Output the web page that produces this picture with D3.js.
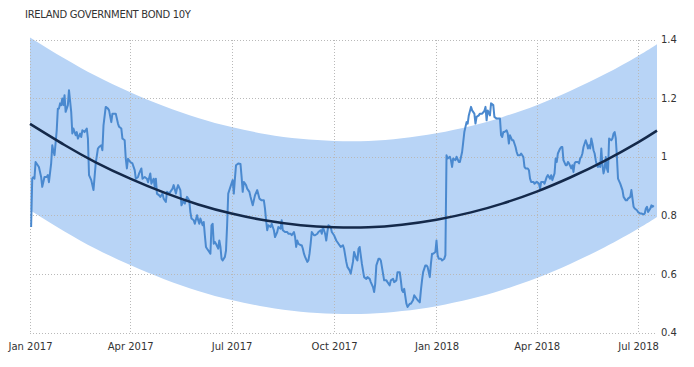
<!DOCTYPE html>
<html>
<head>
<meta charset="utf-8">
<script src="https://cdn.jsdelivr.net/npm/d3@7"></script>
<style>
  html, body { margin: 0; padding: 0; background: #fff; }
  svg { display: block; }
  text { font-family: "DejaVu Sans", Verdana, sans-serif; fill: #333; }
</style>
</head>
<body>
<svg id="chart" width="694" height="367"></svg>
<script>
const title = "IRELAND GOVERNMENT BOND 10Y";

const dates = [
"2017-01-02","2017-01-03","2017-01-04","2017-01-05","2017-01-06","2017-01-09","2017-01-11","2017-01-12","2017-01-14","2017-01-16",
"2017-01-17","2017-01-18","2017-01-20","2017-01-21","2017-01-22","2017-01-23","2017-01-25","2017-01-26","2017-01-27","2017-01-28",
"2017-01-29","2017-01-30","2017-01-31","2017-02-01","2017-02-02","2017-02-04","2017-02-05","2017-02-07","2017-02-08","2017-02-09",
"2017-02-11","2017-02-12","2017-02-13","2017-02-15","2017-02-16","2017-02-17","2017-02-19","2017-02-21","2017-02-22","2017-02-23",
"2017-02-25","2017-02-26","2017-02-27","2017-03-01","2017-03-03","2017-03-04","2017-03-06","2017-03-07","2017-03-08","2017-03-10",
"2017-03-12","2017-03-13","2017-03-15","2017-03-16","2017-03-18","2017-03-19","2017-03-21","2017-03-22","2017-03-24","2017-03-25",
"2017-03-27","2017-03-28","2017-03-29","2017-03-30","2017-04-01","2017-04-03","2017-04-05","2017-04-06","2017-04-08","2017-04-09",
"2017-04-11","2017-04-12","2017-04-14","2017-04-16","2017-04-17","2017-04-19","2017-04-20","2017-04-22","2017-04-23","2017-04-24",
"2017-04-25","2017-04-27","2017-04-28","2017-04-30","2017-05-01","2017-05-03","2017-05-04","2017-05-06","2017-05-07","2017-05-09",
"2017-05-10","2017-05-12","2017-05-13","2017-05-14","2017-05-16","2017-05-17","2017-05-19","2017-05-20","2017-05-22","2017-05-24",
"2017-05-25","2017-05-26","2017-05-28","2017-05-29","2017-05-31","2017-06-01","2017-06-02","2017-06-03","2017-06-05","2017-06-06",
"2017-06-07","2017-06-08","2017-06-09","2017-06-11","2017-06-12","2017-06-13","2017-06-14","2017-06-15","2017-06-16","2017-06-17",
"2017-06-19","2017-06-20","2017-06-21","2017-06-22","2017-06-23","2017-06-25","2017-06-26","2017-06-27","2017-06-28","2017-06-29",
"2017-07-01","2017-07-02","2017-07-03","2017-07-04","2017-07-05","2017-07-07","2017-07-09","2017-07-10","2017-07-11","2017-07-12",
"2017-07-14","2017-07-15","2017-07-17","2017-07-18","2017-07-20","2017-07-21","2017-07-22","2017-07-24","2017-07-26","2017-07-28",
"2017-07-30","2017-07-31","2017-08-01","2017-08-02","2017-08-03","2017-08-05","2017-08-06","2017-08-08","2017-08-09","2017-08-11",
"2017-08-12","2017-08-14","2017-08-15","2017-08-16","2017-08-18","2017-08-20","2017-08-21","2017-08-23","2017-08-24","2017-08-26",
"2017-08-27","2017-08-28","2017-08-29","2017-08-30","2017-09-01","2017-09-02","2017-09-03","2017-09-04","2017-09-05","2017-09-07",
"2017-09-08","2017-09-09","2017-09-10","2017-09-11","2017-09-13","2017-09-14","2017-09-16","2017-09-17","2017-09-19","2017-09-20",
"2017-09-21","2017-09-23","2017-09-24","2017-09-25","2017-09-26","2017-09-28","2017-09-29","2017-10-01","2017-10-03","2017-10-05",
"2017-10-07","2017-10-09","2017-10-10","2017-10-12","2017-10-13","2017-10-15","2017-10-16","2017-10-18","2017-10-19","2017-10-21",
"2017-10-22","2017-10-23","2017-10-24","2017-10-26","2017-10-27","2017-10-28","2017-10-30","2017-10-31","2017-11-02","2017-11-03",
"2017-11-05","2017-11-06","2017-11-07","2017-11-08","2017-11-10","2017-11-11","2017-11-12","2017-11-14","2017-11-15","2017-11-17",
"2017-11-18","2017-11-20","2017-11-21","2017-11-23","2017-11-24","2017-11-26","2017-11-27","2017-11-29","2017-11-30","2017-12-01",
"2017-12-02","2017-12-03","2017-12-05","2017-12-06","2017-12-08","2017-12-09","2017-12-11","2017-12-12","2017-12-14","2017-12-15",
"2017-12-17","2017-12-18","2017-12-19","2017-12-20","2017-12-22","2017-12-23","2017-12-24","2017-12-26","2017-12-27","2017-12-28",
"2017-12-29","2017-12-31","2018-01-01","2018-01-02","2018-01-03","2018-01-05","2018-01-06","2018-01-08","2018-01-09","2018-01-10",
"2018-01-11","2018-01-13","2018-01-14","2018-01-15","2018-01-16","2018-01-18","2018-01-19","2018-01-21","2018-01-22","2018-01-24",
"2018-01-25","2018-01-26","2018-01-28","2018-01-29","2018-01-30","2018-02-01","2018-02-02","2018-02-04","2018-02-05","2018-02-06",
"2018-02-08","2018-02-09","2018-02-11","2018-02-13","2018-02-14","2018-02-15","2018-02-16","2018-02-18","2018-02-19","2018-02-21",
"2018-02-22","2018-02-24","2018-02-25","2018-02-27","2018-02-28","2018-03-01","2018-03-02","2018-03-03","2018-03-05","2018-03-06",
"2018-03-07","2018-03-08","2018-03-10","2018-03-11","2018-03-13","2018-03-14","2018-03-15","2018-03-17","2018-03-18","2018-03-20",
"2018-03-21","2018-03-22","2018-03-24","2018-03-25","2018-03-26","2018-03-27","2018-03-29","2018-03-30","2018-04-01","2018-04-03",
"2018-04-04","2018-04-05","2018-04-07","2018-04-08","2018-04-10","2018-04-11","2018-04-13","2018-04-14","2018-04-15","2018-04-17",
"2018-04-18","2018-04-19","2018-04-20","2018-04-22","2018-04-23","2018-04-24","2018-04-25","2018-04-27","2018-04-28","2018-04-29",
"2018-04-30","2018-05-02","2018-05-03","2018-05-04","2018-05-05","2018-05-06","2018-05-08","2018-05-09","2018-05-10","2018-05-11",
"2018-05-12","2018-05-13","2018-05-15","2018-05-16","2018-05-17","2018-05-18","2018-05-19","2018-05-20","2018-05-21","2018-05-22",
"2018-05-23","2018-05-24","2018-05-25","2018-05-26","2018-05-27","2018-05-28","2018-05-29","2018-05-30","2018-05-31","2018-06-01",
"2018-06-02","2018-06-03","2018-06-04","2018-06-05","2018-06-07","2018-06-08","2018-06-09","2018-06-10","2018-06-11","2018-06-12",
"2018-06-13","2018-06-15","2018-06-16","2018-06-17","2018-06-18","2018-06-20","2018-06-21","2018-06-22","2018-06-24","2018-06-25",
"2018-06-26","2018-06-27","2018-06-28","2018-06-30","2018-07-01","2018-07-03","2018-07-04","2018-07-06","2018-07-07","2018-07-08",
"2018-07-09","2018-07-10","2018-07-12","2018-07-13","2018-07-14","2018-07-15"
];

const yields = [
0.760,0.925,0.930,0.925,0.982,0.965,0.931,0.897,0.931,0.931,
0.937,0.913,0.977,1.039,1.020,1.005,1.090,1.164,1.164,1.182,
1.176,1.199,1.176,1.210,1.153,1.176,1.227,1.153,1.079,1.096,
1.073,1.084,1.062,1.079,1.067,1.090,1.084,1.096,1.062,0.937,
0.920,0.903,0.886,0.977,1.028,1.033,1.039,1.022,1.107,1.170,
1.164,1.158,1.118,1.147,1.147,1.147,1.113,1.102,1.096,1.062,
1.056,0.993,0.960,0.993,0.982,0.977,0.954,0.925,0.931,0.943,
0.960,0.925,0.931,0.925,0.913,0.943,0.908,0.925,0.897,0.925,
0.874,0.868,0.863,0.874,0.857,0.846,0.880,0.874,0.880,0.891,
0.903,0.874,0.891,0.903,0.886,0.834,0.851,0.840,0.863,0.851,
0.811,0.789,0.783,0.771,0.800,0.783,0.771,0.789,0.766,0.777,
0.732,0.692,0.686,0.675,0.669,0.766,0.771,0.703,0.709,0.703,
0.686,0.714,0.692,0.652,0.646,0.658,0.680,0.766,0.874,0.886,
0.909,0.920,0.874,0.925,0.971,0.977,0.975,0.931,0.880,0.914,
0.903,0.891,0.880,0.863,0.834,0.851,0.868,0.886,0.857,0.851,
0.851,0.823,0.783,0.749,0.766,0.760,0.771,0.749,0.726,0.743,
0.760,0.754,0.783,0.749,0.743,0.743,0.737,0.737,0.732,0.743,
0.726,0.692,0.714,0.703,0.698,0.698,0.686,0.669,0.658,0.641,
0.646,0.669,0.703,0.743,0.732,0.732,0.737,0.743,0.749,0.737,
0.760,0.737,0.714,0.743,0.766,0.760,0.743,0.732,0.714,0.703,
0.692,0.698,0.686,0.641,0.624,0.612,0.601,0.641,0.675,0.652,
0.646,0.686,0.692,0.635,0.612,0.589,0.583,0.589,0.583,0.572,
0.555,0.538,0.567,0.629,0.652,0.652,0.646,0.601,0.578,0.578,
0.572,0.561,0.578,0.583,0.572,0.578,0.606,0.606,0.578,0.544,
0.538,0.549,0.498,0.487,0.498,0.498,0.511,0.527,0.516,0.511,
0.503,0.544,0.578,0.606,0.629,0.629,0.624,0.589,0.635,0.669,
0.669,0.675,0.714,0.664,0.652,0.652,0.646,0.652,0.664,1.005,
0.994,1.000,0.988,0.965,0.994,0.988,1.000,0.982,0.982,1.016,
1.050,1.084,1.118,1.113,1.141,1.170,1.158,1.147,1.113,1.136,
1.141,1.147,1.147,1.156,1.170,1.124,1.158,1.141,1.182,1.176,
1.136,1.130,1.130,1.130,1.073,1.067,1.084,1.084,1.090,1.079,
1.045,1.073,1.056,1.056,1.033,1.016,1.005,1.005,1.011,0.999,
0.965,0.960,0.960,0.954,0.925,0.914,0.914,0.908,0.914,0.908,
0.891,0.914,0.914,0.908,0.931,0.937,0.925,0.937,0.920,0.943,
0.994,0.982,1.011,1.028,1.033,1.033,0.988,0.971,0.971,0.982,
0.977,0.960,0.971,0.948,0.977,0.982,0.982,0.977,0.994,0.999,
1.011,1.033,1.056,1.045,1.028,1.039,1.028,1.062,1.045,1.022,
1.011,0.988,0.971,0.965,0.977,0.965,1.028,0.971,0.943,0.960,
0.999,0.960,0.948,1.062,1.056,1.062,1.079,1.084,1.062,0.999,
0.925,0.908,0.897,0.886,0.863,0.851,0.851,0.857,0.863,0.886,
0.857,0.829,0.823,0.817,0.811,0.806,0.806,0.803,0.806,0.823,
0.829,0.811,0.823,0.834,0.829,0.834
];

// Regression trend and band half-width
const trendDates = ["2017-01-01","2017-02-01","2017-03-01","2017-04-01","2017-05-01","2017-06-01","2017-07-01",
  "2017-08-01","2017-09-01","2017-10-01","2017-11-01","2017-12-01","2018-01-01","2018-02-01","2018-03-01",
  "2018-04-01","2018-05-01","2018-06-01","2018-07-01","2018-07-18"];
const trendValues = [1.112,1.040,0.981,0.925,0.878,0.837,0.806,0.782,0.766,0.759,0.759,0.768,0.785,0.810,
  0.840,0.881,0.929,0.986,1.049,1.089];
const bandHalfWidth = 0.295;

const xTickDates = ["2017-01-01","2017-04-01","2017-07-01","2017-10-01","2018-01-01","2018-04-01","2018-07-01"];
const yTicks = [0.4, 0.6, 0.8, 1.0, 1.2, 1.4];
const xDomain = ["2017-01-01","2018-07-18"];

const parse = d3.timeParse("%Y-%m-%d");
const series = dates.map((d, i) => ({ date: parse(d), value: yields[i] }));
const trend = trendDates.map((d, i) => ({ date: parse(d), value: trendValues[i] }));

const plotLeft = 30, plotRight = 657, plotTop = 39.5, plotBottom = 332.5;
const x = d3.scaleTime().domain(xDomain.map(parse)).range([plotLeft, plotRight]);
const y = d3.scaleLinear().domain([0.4, 1.4]).range([plotBottom, plotTop]);

const svg = d3.select("#chart");

svg.append("text")
  .attr("x", 25).attr("y", 18)
  .attr("font-size", 10)
  .attr("letter-spacing", -0.3)
  .text(title);

// band
svg.append("path")
  .datum(trend)
  .attr("fill", "#b8d4f6")
  .attr("d", d3.area()
    .x(d => x(d.date))
    .y0(d => y(d.value - bandHalfWidth))
    .y1(d => y(d.value + bandHalfWidth))
    .curve(d3.curveNatural));

// grid
const grid = svg.append("g").attr("stroke", "#b9b9b9").attr("stroke-dasharray", "1,2").attr("stroke-width", 1);
grid.selectAll("line.h").data(yTicks).join("line").attr("class", "h")
  .attr("x1", plotLeft).attr("x2", plotRight)
  .attr("y1", d => Math.round(y(d)) + 0.5).attr("y2", d => Math.round(y(d)) + 0.5);
grid.selectAll("line.v").data(xTickDates.map(parse)).join("line").attr("class", "v")
  .attr("x1", d => Math.round(x(d)) + 0.5).attr("x2", d => Math.round(x(d)) + 0.5)
  .attr("y1", Math.round(plotTop)).attr("y2", Math.round(plotBottom) + 1);

// axes (labels only)
const yAxis = d3.axisRight(y).tickValues(yTicks).tickSize(0).tickPadding(4)
  .tickFormat(d => String(+d.toFixed(1)));
svg.append("g").attr("transform", `translate(${plotRight},0)`).call(yAxis)
  .call(g => g.select(".domain").remove())
  .call(g => g.selectAll("text").attr("font-size", 10).attr("fill", "#333")
    .attr("font-family", "DejaVu Sans, Verdana, sans-serif"));

const xAxis = d3.axisBottom(x).tickValues(xTickDates.map(parse)).tickSize(0).tickPadding(10)
  .tickFormat(d3.timeFormat("%b %Y"));
svg.append("g").attr("transform", `translate(0,${plotBottom})`).call(xAxis)
  .call(g => g.select(".domain").remove())
  .call(g => g.selectAll("text").attr("font-size", 10).attr("fill", "#333")
    .attr("font-family", "DejaVu Sans, Verdana, sans-serif"));

// data line
svg.append("path")
  .datum(series)
  .attr("fill", "none")
  .attr("stroke", "#4a89cf")
  .attr("stroke-width", 2)
  .attr("stroke-linejoin", "round")
  .attr("d", d3.line().x(d => x(d.date)).y(d => y(d.value)));

// trend line
svg.append("path")
  .datum(trend)
  .attr("fill", "none")
  .attr("stroke", "#14294a")
  .attr("stroke-width", 2.5)
  .attr("d", d3.line().x(d => x(d.date)).y(d => y(d.value)).curve(d3.curveNatural));
</script>
</body>
</html>
